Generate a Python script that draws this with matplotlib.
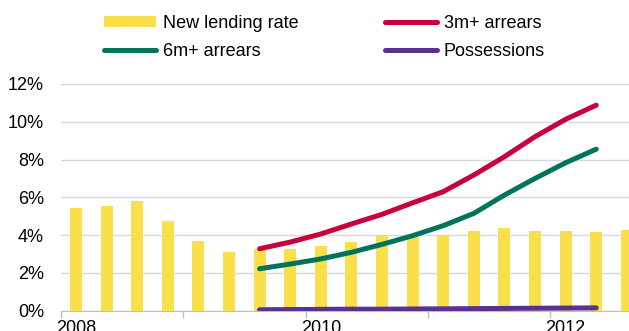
import numpy as np
import matplotlib
matplotlib.use("Agg")
import matplotlib.pyplot as plt
from matplotlib.patches import Patch
from matplotlib.lines import Line2D

plt.rcParams['font.family'] = ['Liberation Sans', 'DejaVu Sans']

# Quarterly series, 2008 Q1 onwards (per cent)
lendingRate = [5.42, 5.52, 5.80, 4.75, 3.67, 3.11, 3.28, 3.28, 3.44, 3.65,
               3.97, 3.92, 3.94, 4.22, 4.36, 4.22, 4.22, 4.15, 4.27]
# Arrears and possessions run from 2009 Q3 to 2012 Q2
arrearsStart = 6
arrears3m = [3.28, 3.63, 4.06, 4.59, 5.10, 5.71, 6.30, 7.18, 8.15, 9.21, 10.13, 10.88]
arrears6m = [2.22, 2.47, 2.74, 3.09, 3.51, 3.97, 4.50, 5.15, 6.12, 7.00, 7.83, 8.55]
possessions = [0.05, 0.06, 0.07, 0.08, 0.08, 0.09, 0.10, 0.11, 0.12, 0.13, 0.14, 0.15]
yearLabels = ["2008", "2010", "2012"]

YELLOW = "#F9E04B"
RED = "#C8003C"
GREEN = "#00735C"
PURPLE = "#5C3092"
FONT_SIZE = 13

fig = plt.figure(figsize=(6.29, 3.31), dpi=100)
ax = fig.add_axes([60.7 / 629, 20.3 / 331, 1 - 60.7 / 629, 226.7 / 331])

barX = np.arange(len(lendingRate)) + 0.5
ax.bar(barX, lendingRate, width=0.39, color=YELLOW, zorder=2)

lineX = np.arange(arrearsStart, arrearsStart + len(arrears3m)) + 0.5
for series, colour in [(arrears3m, RED), (arrears6m, GREEN), (possessions, PURPLE)]:
    ax.plot(lineX, series, color=colour, lw=3.6, solid_capstyle="round",
            solid_joinstyle="round", zorder=3)

ax.set_ylim(0, 12)
ax.set_xlim(0, (629 - 60.7) / 30.6)
ax.set_yticks(range(0, 13, 2))
ax.set_yticklabels([f"{v}%" for v in range(0, 13, 2)], fontsize=FONT_SIZE)
ax.grid(axis="y", color="#D9D9D9", lw=1.0, zorder=0)
ax.tick_params(axis="y", length=0, pad=12)

# year boundaries get tick marks, labels sit under the first quarter
ax.set_xticks(np.arange(0, 20, 4), minor=True)
ax.set_xticks([0.5, 8.5, 16.5])
ax.set_xticklabels(yearLabels, fontsize=FONT_SIZE)
ax.tick_params(axis="x", which="major", length=0, pad=6.5)
ax.tick_params(axis="x", which="minor", length=5, color="#BFBFBF", width=1)

for side in ["left", "right", "top"]:
    ax.spines[side].set_visible(False)
ax.spines["bottom"].set_color("#BFBFBF")
ax.spines["bottom"].set_zorder(1)

handles = [
    Patch(facecolor=YELLOW, edgecolor="none"),
    Line2D([], [], color=GREEN, lw=3.6, solid_capstyle="round"),
    Line2D([], [], color=RED, lw=3.6, solid_capstyle="round"),
    Line2D([], [], color=PURPLE, lw=3.6, solid_capstyle="round"),
]
labels = ["New lending rate", "6m+ arrears", "3m+ arrears", "Possessions"]
fig.legend(handles, labels, ncol=2, loc="upper left",
           bbox_to_anchor=(104 / 629, 1 - 15 / 331), frameon=False,
           fontsize=FONT_SIZE, borderpad=0, borderaxespad=0, handlelength=2.9,
           handleheight=0.55, handletextpad=0.35, columnspacing=4.8,
           labelspacing=0.62)

fig.savefig("out.png", dpi=100)
